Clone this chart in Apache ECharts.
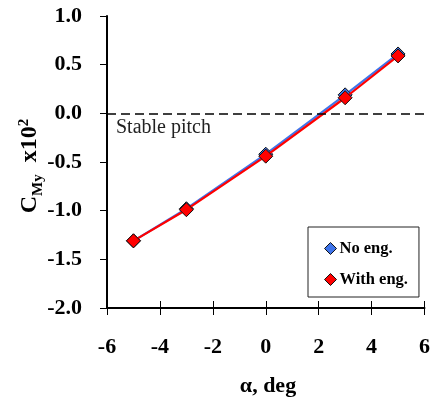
<!DOCTYPE html>
<html>
<head>
<meta charset="utf-8">
<script src="https://cdn.jsdelivr.net/npm/echarts@6/dist/echarts.min.js"></script>
<style>
  html, body { margin: 0; padding: 0; background: #fff; }
  #chart { width: 433px; height: 399px; }
</style>
</head>
<body>
<div id="chart"></div>
<script>
// Pitching moment coefficient vs. angle of attack
const alphaDeg = [-5, -3, 0, 3, 5];
const cmyNoEng = [-1.31, -0.98, -0.42, 0.19, 0.61];
const cmyWithEng = [-1.31, -0.99, -0.44, 0.16, 0.59];
const xTicks = { min: -6, max: 6, step: 2 };
const yTicks = { min: -2.0, max: 1.0, step: 0.5 };

const serif = '"Liberation Serif", "Times New Roman", serif';

const pairs = (xs, ys) => xs.map((x, i) => [x, ys[i]]);

const chart = echarts.init(document.getElementById('chart'), null, { renderer: 'canvas' });

const tickLabel = { fontFamily: serif, fontWeight: 'bold', fontSize: 22, color: '#000' };

chart.setOption({
  animation: false,
  backgroundColor: '#fff',
  grid: { left: 107, right: 4, top: 16, bottom: 91, containLabel: false },
  xAxis: [
    {
      type: 'value', min: xTicks.min, max: xTicks.max, interval: xTicks.step,
      axisLine: { show: true, onZero: false, lineStyle: { color: '#000', width: 2 } },
      axisTick: { show: true, inside: true, length: 7, lineStyle: { color: '#000', width: 1 } },
      axisLabel: Object.assign({ margin: 28, formatter: v => String(v) }, tickLabel),
      splitLine: { show: false }
    },
    {
      type: 'value', position: 'bottom', min: xTicks.min, max: xTicks.max, interval: xTicks.step,
      axisLine: { show: false, onZero: false },
      axisTick: { show: true, inside: false, length: 7, lineStyle: { color: '#000', width: 1 } },
      axisLabel: { show: false },
      splitLine: { show: false }
    }
  ],
  yAxis: {
    type: 'value', min: yTicks.min, max: yTicks.max, interval: yTicks.step,
    axisLine: { show: true, onZero: false, lineStyle: { color: '#000', width: 2 } },
    axisTick: { show: true, inside: false, length: 7, lineStyle: { color: '#000', width: 1 } },
    axisLabel: Object.assign({ margin: 25, formatter: v => v.toFixed(1) }, tickLabel),
    splitLine: { show: false }
  },
  legend: {
    orient: 'vertical',
    left: 308, top: 227,
    padding: [13, 11, 9, 16],
    itemGap: 14,
    itemWidth: 12, itemHeight: 12,
    backgroundColor: '#fff',
    borderColor: '#222', borderWidth: 1,
    textStyle: { fontFamily: serif, fontWeight: 'bold', fontSize: 16.5, color: '#000', padding: [0, 0, 0, -2] },
    data: [
      { name: 'No eng.', icon: 'diamond', itemStyle: { color: '#3f74ea', borderColor: '#111', borderWidth: 1 } },
      { name: 'With eng.', icon: 'diamond', itemStyle: { color: '#ff0000', borderColor: '#111', borderWidth: 1 } }
    ]
  },
  series: [
    {
      name: 'No eng.', type: 'line', data: pairs(alphaDeg, cmyNoEng),
      symbol: 'diamond', symbolSize: 14,
      lineStyle: { color: '#3f74ea', width: 2.2 },
      itemStyle: { color: '#3f74ea', borderColor: '#111', borderWidth: 1 },
      z: 3,
      markLine: {
        silent: true, symbol: 'none', label: { show: false },
        lineStyle: { color: '#000', type: [9, 5], width: 1.5 },
        data: [{ yAxis: 0 }]
      }
    },
    {
      name: 'With eng.', type: 'line', data: pairs(alphaDeg, cmyWithEng),
      symbol: 'diamond', symbolSize: 14,
      lineStyle: { color: '#ff0000', width: 2.2 },
      itemStyle: { color: '#ff0000', borderColor: '#111', borderWidth: 1 },
      z: 4
    }
  ],
  graphic: [
    {
      type: 'text', left: 116, top: 118,
      style: { text: 'Stable pitch', font: '20px ' + serif, fill: '#222' }
    },
    {
      type: 'text', x: 268, y: 386,
      style: {
        text: 'α, deg', font: 'bold 22px ' + serif, fill: '#000',
        align: 'center', verticalAlign: 'middle'
      }
    },
    {
      type: 'text', x: 29, y: 166, rotation: Math.PI / 2,
      style: {
        text: '{b|C}{s|My}{b|  x10}{p|2}',
        align: 'center', verticalAlign: 'middle',
        rich: {
          b: { font: 'bold 24px ' + serif, fill: '#000', verticalAlign: 'bottom' },
          s: { font: 'bold 15px ' + serif, fill: '#000', verticalAlign: 'bottom', padding: [0, 0, -4, 0] },
          p: { font: 'bold 15px ' + serif, fill: '#000', verticalAlign: 'top', padding: [0, 0, 10, 0] }
        }
      }
    }
  ]
});
</script>
</body>
</html>
